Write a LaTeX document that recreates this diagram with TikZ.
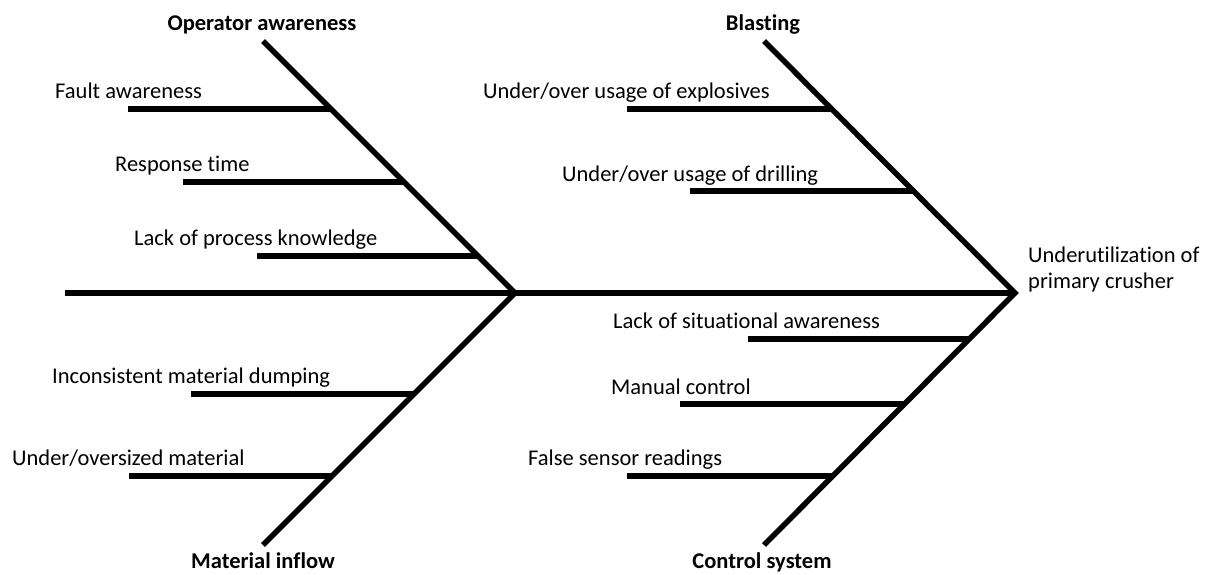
\documentclass[tikz,border=0pt]{standalone}
\usepackage{fontspec}
\setmainfont[Ligatures=NoCommon]{Carlito}
\begin{document}
\begin{tikzpicture}[x=1pt,y=-1pt,
  bone/.style={line width=5.5pt,line cap=butt,line join=miter},
  cause/.style={anchor=base west,inner sep=0pt,font=\fontsize{22.5}{26}\selectfont},
  head/.style={anchor=base,inner sep=0pt,font=\fontsize{22.5}{26}\selectfont\bfseries},
  effect/.style={anchor=base west,inner sep=0pt,align=left,font=\fontsize{22.5}{26}\selectfont}]
\useasboundingbox (0,0) rectangle (1206,574);

% spine and junctions
\coordinate (tail) at (65,293);
\coordinate (jl) at (515,293);
\coordinate (jr) at (1015,293);
% rib ends
\coordinate (opTop) at (263,41);
\coordinate (miBot) at (263,545);
\coordinate (blTop) at (764,41);
\coordinate (csBot) at (764,545);

\draw[bone] (tail) -- (jr);
\draw[bone] (opTop) -- (jl) -- (miBot);
\draw[bone] (blTop) -- (jr) -- (csBot);

% category headings
\node[head] (op) at (262,30) {Operator awareness};
\node[head] (bl) at (763,30) {Blasting};
\node[head] (mi) at (263,568) {Material inflow};
\node[head] (cs) at (762,568) {Control system};

% effect
\node[effect] (eff) at (1028,288) {Underutilization of\\primary crusher};

% sub-cause bars: start point and intersection with the rib
\coordinate (fa0) at (128,109);  \coordinate (fa1) at (331,109);
\coordinate (rt0) at (183,182);  \coordinate (rt1) at (404,182);
\coordinate (lp0) at (257,256);  \coordinate (lp1) at (478,256);
\coordinate (id0) at (191,394);  \coordinate (id1) at (414,394);
\coordinate (um0) at (129,476);  \coordinate (um1) at (332,476);
\coordinate (ex0) at (627,109);  \coordinate (ex1) at (832,109);
\coordinate (dr0) at (690,191);  \coordinate (dr1) at (915,191);
\coordinate (ls0) at (748,339);  \coordinate (ls1) at (969,339);
\coordinate (mc0) at (680,404);  \coordinate (mc1) at (904,404);
\coordinate (fs0) at (627,476);  \coordinate (fs1) at (832,476);

\foreach \b in {fa,rt,lp,id,um,ex,dr,ls,mc,fs}
  \draw[bone] (\b0) -- (\b1);

% sub-cause labels
\node[cause] (faT) at (55,98)  {Fault awareness};
\node[cause] (rtT) at (115,171) {Response time};
\node[cause] (lpT) at (134,245) {Lack of process knowledge};
\node[cause] (idT) at (52,383) {Inconsistent material dumping};
\node[cause] (umT) at (12,465) {Under/oversized material};
\node[cause] (exT) at (483,98)  {Under/over usage of explosives};
\node[cause] (drT) at (562,181) {Under/over usage of drilling};
\node[cause] (lsT) at (613,328) {Lack of situational awareness};
\node[cause] (mcT) at (611,394) {Manual control};
\node[cause] (fsT) at (528,465) {False sensor readings};
\end{tikzpicture}
\end{document}
